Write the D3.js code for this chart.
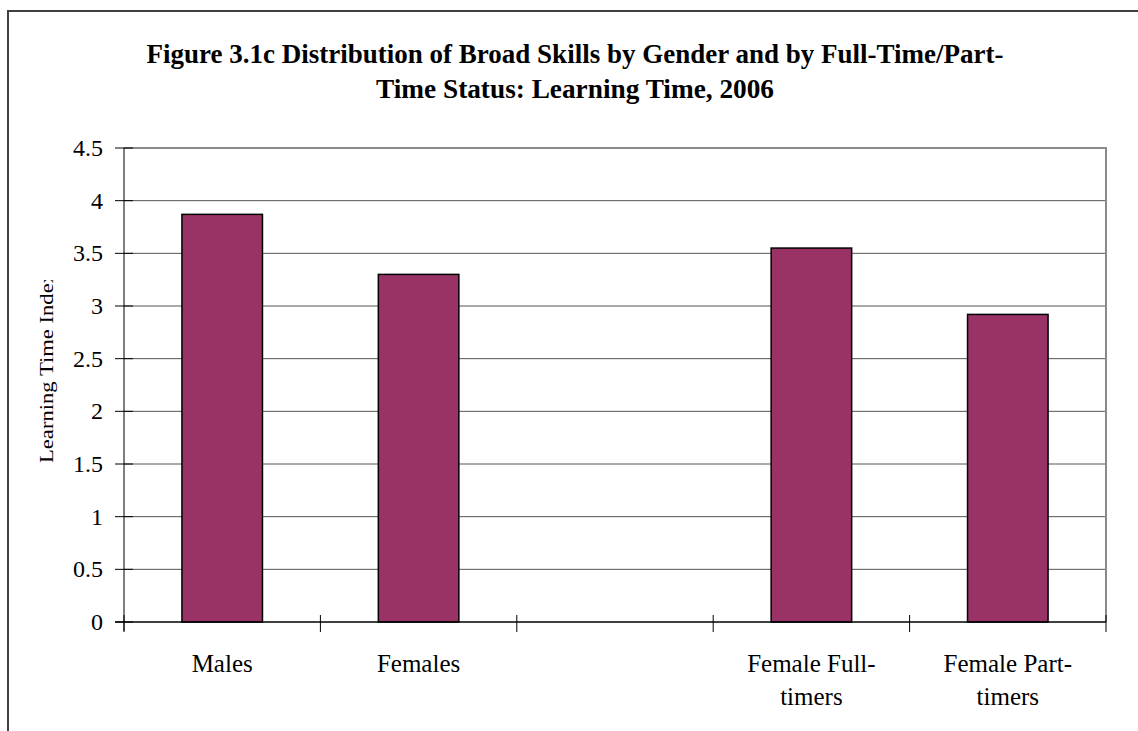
<!DOCTYPE html>
<html>
<head>
<meta charset="utf-8">
<script src="https://cdn.jsdelivr.net/npm/d3@7"></script>
<style>
  html, body { margin: 0; padding: 0; background: #fff; }
  svg { display: block; }
</style>
</head>
<body>
<svg id="chart" width="1138" height="731" font-family="'Liberation Serif', 'Times New Roman', Times, serif"></svg>
<script>
// Learning time index by group (the third slot is an intentional gap)
const categories = ["Males", "Females", "gap", "Female Full-timers", "Female Part-timers"];
const categoryLabels = [["Males"], ["Females"], [], ["Female Full-", "timers"], ["Female Part-", "timers"]];
const values = [3.87, 3.30, null, 3.55, 2.92];
const yTicks = [0, 0.5, 1, 1.5, 2, 2.5, 3, 3.5, 4, 4.5];
const titleLines = [
  "Figure 3.1c Distribution of Broad Skills by Gender and by Full-Time/Part-",
  "Time Status: Learning Time, 2006"
];
const yTitle = "Learning Time Index";

const FONT = "Liberation Serif";
const svg = d3.select("#chart");
const plot = { left: 124, right: 1106, top: 148, bottom: 622 };

// outer chart frame
svg.append("rect")
  .attr("x", 8).attr("y", 11)
  .attr("width", 1140).attr("height", 740)
  .attr("fill", "none").attr("stroke", "#404040").attr("stroke-width", 2);

// title, two centred lines
const titleWidths = [857, 398];
svg.append("g")
  .selectAll("text")
  .data(titleLines)
  .join("text")
  .attr("x", 575)
  .attr("y", (d, i) => 63 + i * 35)
  .attr("text-anchor", "middle")
  .attr("font-family", FONT)
  .attr("font-size", 27).attr("font-weight", "bold")
  .attr("textLength", (d, i) => titleWidths[i])
  .attr("lengthAdjust", "spacingAndGlyphs")
  .text(d => d);

const x = d3.scaleBand()
  .domain(categories)
  .range([plot.left, plot.right])
  .paddingInner(0.59)
  .paddingOuter(0.295);

const y = d3.scaleLinear()
  .domain([0, 4.5])
  .range([plot.bottom, plot.top]);

// horizontal gridlines
svg.append("g")
  .selectAll("line")
  .data(yTicks.filter(t => t > 0 && t < 4.5))
  .join("line")
  .attr("x1", plot.left).attr("x2", plot.right)
  .attr("y1", d => y(d)).attr("y2", d => y(d))
  .attr("stroke", "#555").attr("stroke-width", 1);

// plot frame (top and right)
svg.append("path")
  .attr("d", `M${plot.left},${y(4.5)}H${plot.right}V${plot.bottom}`)
  .attr("fill", "none").attr("stroke", "#8a8a8a").attr("stroke-width", 2);

// bars
svg.append("g")
  .selectAll("rect")
  .data(categories.map((c, i) => ({ c, v: values[i] })).filter(d => d.v !== null))
  .join("rect")
  .attr("x", d => x(d.c))
  .attr("y", d => y(d.v))
  .attr("width", x.bandwidth())
  .attr("height", d => y(0) - y(d.v))
  .attr("fill", "#993366")
  .attr("stroke", "#000").attr("stroke-width", 1.5);

// y axis
const yAxis = svg.append("g");
yAxis.append("line")
  .attr("x1", plot.left).attr("x2", plot.left)
  .attr("y1", y(4.5)).attr("y2", plot.bottom + 9)
  .attr("stroke", "#000");
yAxis.selectAll("line.tick")
  .data(yTicks)
  .join("line")
  .attr("class", "tick")
  .attr("x1", plot.left - 9).attr("x2", plot.left + 9)
  .attr("y1", d => y(d)).attr("y2", d => y(d))
  .attr("stroke", "#000");
yAxis.selectAll("text")
  .data(yTicks)
  .join("text")
  .attr("x", 103).attr("y", d => y(d))
  .attr("dy", "0.34em")
  .attr("text-anchor", "end")
  .attr("font-family", FONT)
  .attr("font-size", 24)
  .text(d => d3.format("")(d));

// x axis
const step = x.step();
const boundaries = d3.range(categories.length + 1).map(i => x.range()[0] + i * step);
const xAxis = svg.append("g");
xAxis.append("line")
  .attr("x1", plot.left - 9).attr("x2", plot.right)
  .attr("y1", y(0)).attr("y2", y(0))
  .attr("stroke", "#000").attr("stroke-width", 1.5);
xAxis.selectAll("line.tick")
  .data(boundaries)
  .join("line")
  .attr("class", "tick")
  .attr("x1", d => d).attr("x2", d => d)
  .attr("y1", y(0) - 7).attr("y2", y(0) + 10)
  .attr("stroke", "#000");
xAxis.selectAll("text")
  .data(categories)
  .join("text")
  .attr("x", d => x(d) + x.bandwidth() / 2)
  .attr("y", 672)
  .attr("text-anchor", "middle")
  .attr("font-family", FONT)
  .attr("font-size", 25)
  .each(function(d, i) {
    const t = d3.select(this);
    categoryLabels[i].forEach((line, j) => {
      t.append("tspan")
        .attr("x", x(d) + x.bandwidth() / 2)
        .attr("dy", j === 0 ? 0 : 33)
        .text(line);
    });
  });

// y axis title, clipped at the top edge of the label box
svg.append("clipPath").attr("id", "ytclip")
  .append("rect").attr("x", 0).attr("y", 280).attr("width", 120).attr("height", 300);
svg.append("g").attr("clip-path", "url(#ytclip)")
  .append("text")
  .attr("transform", "translate(53,463) rotate(-90)")
  .attr("font-family", FONT)
  .attr("font-size", 19)
  .attr("textLength", 191).attr("lengthAdjust", "spacingAndGlyphs")
  .text(yTitle);
</script>
</body>
</html>
